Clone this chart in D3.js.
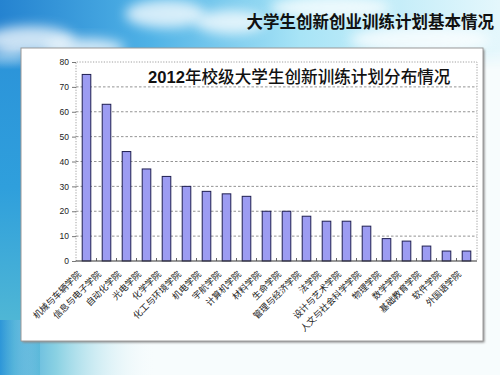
<!DOCTYPE html>
<html>
<head>
<meta charset="utf-8">
<script src="https://cdn.jsdelivr.net/npm/d3@7"></script>
<style>
  body { margin: 0; overflow: hidden; background: #fff; }
</style>
</head>
<body>
<div id="chart"></div>
<script>
// data
const colleges = [
  "机械与车辆学院", "信息与电子学院", "自动化学院", "光电学院", "化学学院",
  "化工与环境学院", "机电学院", "宇航学院", "计算机学院", "材料学院",
  "生命学院", "管理与经济学院", "法学院", "设计与艺术学院", "人文与社会科学学院",
  "物理学院", "数学学院", "基础教育学院", "软件学院", "外国语学院"
]
const projects = [75, 63, 44, 37, 34, 30, 28, 27, 26, 20, 20, 18, 16, 16, 14, 9, 8, 6, 4, 4]
const yTicks = [0, 10, 20, 30, 40, 50, 60, 70, 80]
const pageTitle = "大学生创新创业训练计划基本情况"
const chartYear = "2012"
const chartTitle = "年校级大学生创新训练计划分布情况"

const width = 500
const height = 375
const cjk = '"Noto Sans CJK SC", "Noto Sans", sans-serif'
const latin = '"Liberation Sans", Arial, sans-serif'

const svg = d3.select('#chart')
  .append('svg')
  .attr('width', width)
  .attr('height', height)

const defs = svg.append('defs')

// sky gradient for the top band
const sky = defs.append('linearGradient').attr('id', 'sky')
sky.selectAll('stop')
  .data([[0, '#2583d0'], [0.3, '#4fb2e6'], [0.6, '#a8e4f6'], [1, '#e4f7fc']])
  .join('stop')
  .attr('offset', d => d[0])
  .attr('stop-color', d => d[1])

// left edge, blue at the top going teal at the bottom
const side = defs.append('linearGradient').attr('id', 'side')
  .attr('x1', 0).attr('y1', 0).attr('x2', 0).attr('y2', 1)
side.selectAll('stop')
  .data([[0, '#2a8fd8'], [0.5, '#2f9fdc'], [1, '#5cc0d2']])
  .join('stop')
  .attr('offset', d => d[0])
  .attr('stop-color', d => d[1])

// bottom-left fade to white
const fade = defs.append('linearGradient').attr('id', 'fade')
fade.selectAll('stop')
  .data([[0, '#2d96d8', 1], [0.35, '#6ec6dc', 0.8], [1, '#ffffff', 0]])
  .join('stop')
  .attr('offset', d => d[0])
  .attr('stop-color', d => d[1])
  .attr('stop-opacity', d => d[2])

const vfade = defs.append('linearGradient').attr('id', 'vfade')
  .attr('x1', 0).attr('y1', 0).attr('x2', 0).attr('y2', 1)
vfade.selectAll('stop')
  .data([[0, 1], [0.7, 1], [1, 0]])
  .join('stop')
  .attr('offset', d => d[0])
  .attr('stop-color', '#fff')
  .attr('stop-opacity', d => d[1])
defs.append('mask').attr('id', 'skyMask')
  .append('rect').attr('width', width).attr('height', 70).attr('fill', 'url(#vfade)')

defs.append('filter').attr('id', 'blur')
  .attr('x', '-50%').attr('y', '-50%').attr('width', '200%').attr('height', '200%')
  .append('feGaussianBlur').attr('stdDeviation', 6)

defs.append('filter').attr('id', 'shadow')
  .append('feGaussianBlur').attr('stdDeviation', 1)

// background
svg.append('rect').attr('width', width).attr('height', height).attr('fill', '#f7fcfd')
svg.append('rect').attr('width', 40).attr('height', height).attr('fill', 'url(#side)')
svg.append('rect').attr('x', 0).attr('y', 320).attr('width', 160).attr('height', 55).attr('fill', 'url(#fade)')
svg.append('rect').attr('x', 0).attr('y', 320).attr('width', 40).attr('height', 55).attr('fill', 'url(#fade)').attr('opacity', 0.6)

const skyG = svg.append('g').attr('mask', 'url(#skyMask)')
skyG.append('rect').attr('width', width).attr('height', 70).attr('fill', 'url(#sky)')
// some soft clouds
const clouds = [[30, 40, 45, 14], [85, 48, 40, 10], [165, 14, 40, 14], [230, 22, 35, 12], [330, 8, 60, 12], [420, 40, 70, 14], [8, 62, 20, 12]]
skyG.selectAll('ellipse')
  .data(clouds)
  .join('ellipse')
  .attr('cx', d => d[0]).attr('cy', d => d[1])
  .attr('rx', d => d[2]).attr('ry', d => d[3])
  .attr('fill', '#fff')
  .attr('opacity', 0.75)
  .attr('filter', 'url(#blur)')

// page title
svg.append('text')
  .attr('x', 494)
  .attr('y', 28)
  .attr('text-anchor', 'end')
  .attr('font-family', cjk)
  .attr('font-size', '16.5px')
  .attr('font-weight', 'bold')
  .attr('fill', '#111')
  .text(pageTitle)

// white panel
const panel = { x: 21, y: 48, w: 462, h: 293 }
svg.append('rect')
  .attr('x', panel.x + 1.5).attr('y', panel.y + 1.5)
  .attr('width', panel.w).attr('height', panel.h)
  .attr('fill', '#8a8a8a')
  .attr('filter', 'url(#shadow)')
svg.append('rect')
  .attr('x', panel.x).attr('y', panel.y)
  .attr('width', panel.w).attr('height', panel.h)
  .attr('fill', '#fff')
  .attr('stroke', '#9a9a9a')
  .attr('stroke-width', 1)

// plot area
const plot = { left: 76, right: 477, top: 62, bottom: 261 }

const xScale = d3.scaleBand()
  .domain(colleges)
  .range([plot.left, plot.right])
  .paddingInner(0.57)
  .paddingOuter(0.31)

const yScale = d3.scaleLinear()
  .domain([0, 80])
  .range([plot.bottom, plot.top])

const g = svg.append('g')

// dashed gridlines
g.append('g')
  .selectAll('line')
  .data(yTicks.filter(d => d > 0 && d < 80))
  .join('line')
  .attr('x1', plot.left).attr('x2', plot.right)
  .attr('y1', d => yScale(d)).attr('y2', d => yScale(d))
  .attr('stroke', '#777')
  .attr('stroke-width', 0.8)
  .attr('stroke-dasharray', '2.5,2')

// dotted frame on top, left and right
g.append('path')
  .attr('d', `M${plot.left},${plot.bottom}V${yScale(80)}H${plot.right}V${plot.bottom}`)
  .attr('fill', 'none')
  .attr('stroke', '#888')
  .attr('stroke-width', 0.8)
  .attr('stroke-dasharray', '1.2,1.5')

// bars
g.append('g')
  .selectAll('rect')
  .data(colleges.map((c, i) => ({ college: c, value: projects[i] })))
  .join('rect')
  .attr('x', d => xScale(d.college))
  .attr('y', d => yScale(d.value))
  .attr('width', xScale.bandwidth())
  .attr('height', d => yScale(0) - yScale(d.value))
  .attr('fill', '#9c9cf2')
  .attr('stroke', '#1e1e50')
  .attr('stroke-width', 1)

// y axis
const yAxis = d3.axisLeft(yScale).tickValues(yTicks).tickSize(4).tickPadding(3)
const yAxisG = g.append('g')
  .attr('transform', `translate(${plot.left} 0)`)
  .call(yAxis)
yAxisG.select('.domain').remove()
yAxisG.selectAll('.tick line').attr('stroke', '#555').attr('stroke-width', 0.8)
yAxisG.selectAll('.tick text')
  .attr('font-family', latin)
  .attr('font-size', '8.5px')
  .attr('fill', '#222')

// x axis line with ticks between categories
g.append('line')
  .attr('x1', plot.left).attr('x2', plot.right)
  .attr('y1', plot.bottom).attr('y2', plot.bottom)
  .attr('stroke', '#333')
  .attr('stroke-width', 1.2)
const step = xScale.step()
g.append('g')
  .selectAll('line')
  .data(colleges.slice(1))
  .join('line')
  .attr('x1', d => xScale(d) - (step - xScale.bandwidth()) / 2)
  .attr('x2', d => xScale(d) - (step - xScale.bandwidth()) / 2)
  .attr('y1', plot.bottom)
  .attr('y2', plot.bottom - 3)
  .attr('stroke', '#444')
  .attr('stroke-width', 0.8)

// rotated category labels
g.append('g')
  .selectAll('text')
  .data(colleges)
  .join('text')
  .attr('transform', d => `translate(${xScale(d) + xScale.bandwidth() / 2 - 5} 275) rotate(-45)`)
  .attr('text-anchor', 'end')
  .attr('font-family', cjk)
  .attr('font-size', '9px')
  .attr('fill', '#222')
  .text(d => d)

// chart title inside the plot
const title = svg.append('text')
  .attr('x', 148)
  .attr('y', 83)
  .attr('fill', '#111')
  .attr('font-size', '16.6px')
title.append('tspan')
  .attr('font-family', latin)
  .attr('font-weight', 'bold')
  .text(chartYear)
title.append('tspan')
  .attr('font-family', cjk)
  .attr('font-weight', 500)
  .text(chartTitle)
</script>
</body>
</html>
